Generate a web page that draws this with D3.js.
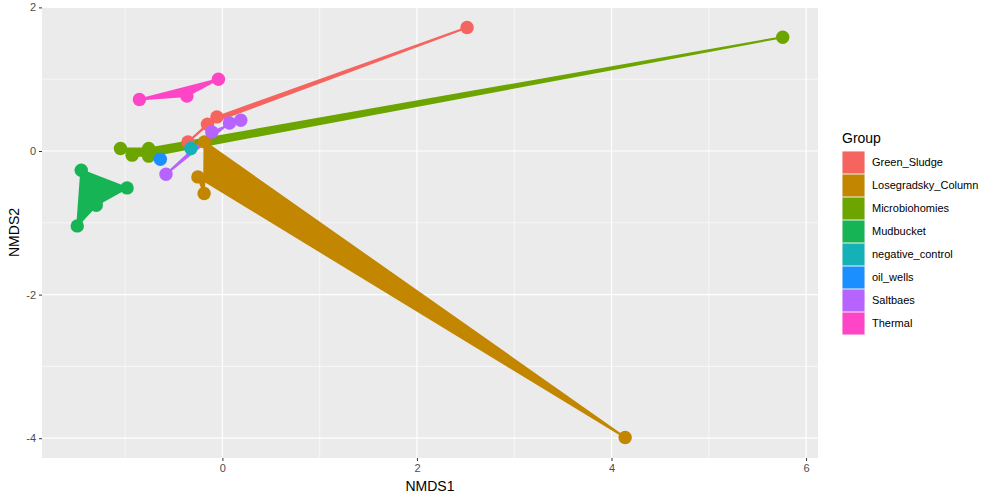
<!DOCTYPE html>
<html>
<head>
<meta charset="utf-8">
<script src="https://cdn.jsdelivr.net/npm/d3@7"></script>
<style>
  html, body { margin: 0; padding: 0; background: #fff; }
  svg text { font-family: "Liberation Sans", Arial, Helvetica, sans-serif; }
</style>
</head>
<body>
<svg id="chart" width="1000" height="500"></svg>
<script>
// ---- Data ----
const groups = ["Green_Sludge", "Losegradsky_Column", "Microbiohomies", "Mudbucket",
                "negative_control", "oil_wells", "Saltbaes", "Thermal"];
const groupColors = ["#F5645F", "#C28600", "#6CA400", "#17B455",
                     "#14B1B6", "#1B8FFF", "#B663FF", "#FF45C7"];

// Samples, listed per group in the order the polygon connects them
const sampleGroup = [
  "Green_Sludge", "Green_Sludge", "Green_Sludge", "Green_Sludge",
  "Losegradsky_Column", "Losegradsky_Column", "Losegradsky_Column", "Losegradsky_Column",
  "Microbiohomies", "Microbiohomies", "Microbiohomies", "Microbiohomies", "Microbiohomies",
  "Mudbucket", "Mudbucket", "Mudbucket", "Mudbucket",
  "negative_control",
  "oil_wells",
  "Saltbaes", "Saltbaes", "Saltbaes", "Saltbaes",
  "Thermal", "Thermal", "Thermal"
];
const nmds1 = [
  -0.354, -0.154, 2.515, -0.057,
  -0.184, 4.140, -0.252, -0.188,
  -1.048, -0.928, -0.758, 5.760, -0.758,
  -1.451, -0.980, -1.297, -1.492,
  -0.324,
  -0.638,
  -0.580, -0.109, 0.189, 0.072,
  -0.853, -0.365, -0.041
];
const nmds2 = [
  0.127, 0.373, 1.720, 0.475,
  0.127, -3.990, -0.361, -0.592,
  0.035, -0.058, -0.072, 1.585, 0.035,
  -0.268, -0.514, -0.755, -1.043,
  0.035,
  -0.114,
  -0.323, 0.266, 0.429, 0.391,
  0.717, 0.767, 1.000
];
const xTicks = [0, 2, 4, 6];
const yTicks = [-4, -2, 0, 2];
const xMinor = [-1, 1, 3, 5];
const yMinor = [-3, -1, 1];

// ---- Layout ----
const panel = { left: 42, right: 818, top: 7, bottom: 458 };
const svg = d3.select("#chart");

const samples = sampleGroup.map((g, i) => ({ group: g, x: nmds1[i], y: nmds2[i] }));
const xExt = d3.extent(nmds1), yExt = d3.extent(nmds2);
const xPad = (xExt[1] - xExt[0]) * 0.05, yPad = (yExt[1] - yExt[0]) * 0.05;

const x = d3.scaleLinear().domain([xExt[0] - xPad, xExt[1] + xPad]).range([panel.left, panel.right]);
const y = d3.scaleLinear().domain([yExt[0] - yPad, yExt[1] + yPad]).range([panel.bottom, panel.top]);
const color = d3.scaleOrdinal().domain(groups).range(groupColors);

// Panel background
svg.append("rect")
  .attr("x", panel.left).attr("y", panel.top)
  .attr("width", panel.right - panel.left).attr("height", panel.bottom - panel.top)
  .attr("fill", "#EBEBEB");

// Grid lines
const grid = svg.append("g");
grid.selectAll(".vminor").data(xMinor).join("line")
  .attr("x1", d => x(d)).attr("x2", d => x(d))
  .attr("y1", panel.top).attr("y2", panel.bottom)
  .attr("stroke", "#fff").attr("stroke-width", 0.6);
grid.selectAll(".hminor").data(yMinor).join("line")
  .attr("y1", d => y(d)).attr("y2", d => y(d))
  .attr("x1", panel.left).attr("x2", panel.right)
  .attr("stroke", "#fff").attr("stroke-width", 0.6);
grid.selectAll(".vmajor").data(xTicks).join("line")
  .attr("x1", d => x(d)).attr("x2", d => x(d))
  .attr("y1", panel.top).attr("y2", panel.bottom)
  .attr("stroke", "#fff").attr("stroke-width", 1.2);
grid.selectAll(".hmajor").data(yTicks).join("line")
  .attr("y1", d => y(d)).attr("y2", d => y(d))
  .attr("x1", panel.left).attr("x2", panel.right)
  .attr("stroke", "#fff").attr("stroke-width", 1.2);

// Polygons (data order per group)
const byGroup = d3.group(samples, d => d.group);
const line = d3.line().x(d => x(d.x)).y(d => y(d.y));
svg.append("g").selectAll("path")
  .data(groups.filter(g => byGroup.has(g)).map(g => [g, byGroup.get(g)]))
  .join("path")
  .attr("d", d => line(d[1]) + "Z")
  .attr("fill", d => color(d[0]))
  .attr("stroke", d => color(d[0]))
  .attr("stroke-width", 2)
  .attr("stroke-linejoin", "round");

// Points
svg.append("g").selectAll("circle")
  .data(groups.flatMap(g => byGroup.get(g) || []))
  .join("circle")
  .attr("cx", d => x(d.x)).attr("cy", d => y(d.y))
  .attr("r", 6.7)
  .attr("fill", d => color(d.group));

// Axes
const xAxis = d3.axisBottom(x).tickValues(xTicks).tickFormat(d => String(d)).tickSize(3).tickPadding(3);
const yAxis = d3.axisLeft(y).tickValues(yTicks).tickFormat(d => String(d)).tickSize(3).tickPadding(3);
const gx = svg.append("g").attr("transform", `translate(0,${panel.bottom})`).call(xAxis);
const gy = svg.append("g").attr("transform", `translate(${panel.left},0)`).call(yAxis);
[gx, gy].forEach(g => {
  g.select(".domain").remove();
  g.selectAll(".tick line").attr("stroke", "#333").attr("stroke-width", 1);
  g.selectAll(".tick text").attr("fill", "#4D4D4D").attr("font-size", 11);
});

// Axis titles
svg.append("text")
  .attr("x", (panel.left + panel.right) / 2).attr("y", 491)
  .attr("text-anchor", "middle").attr("font-size", 14).attr("fill", "#000")
  .text("NMDS1");
svg.append("text")
  .attr("transform", `translate(19,${(panel.top + panel.bottom) / 2}) rotate(-90)`)
  .attr("text-anchor", "middle").attr("font-size", 14).attr("fill", "#000")
  .text("NMDS2");

// Legend
const legend = svg.append("g").attr("transform", "translate(842,0)");
legend.append("text").attr("x", 0).attr("y", 143)
  .attr("font-size", 14).attr("fill", "#000").text("Group");
const keyH = 23, keyTop = 151;
const items = legend.selectAll("g.item").data(groups).join("g")
  .attr("transform", (d, i) => `translate(0,${keyTop + i * keyH})`);
items.append("rect")
  .attr("x", 0).attr("y", 0).attr("width", 23).attr("height", keyH)
  .attr("fill", "#F2F2F2");
items.append("rect")
  .attr("x", 0.5).attr("y", 0.5).attr("width", 22).attr("height", keyH - 1)
  .attr("fill", d => color(d));
items.append("text")
  .attr("x", 30).attr("y", keyH / 2).attr("dy", "0.35em")
  .attr("font-size", 11).attr("fill", "#000")
  .text(d => d);
</script>
</body>
</html>
